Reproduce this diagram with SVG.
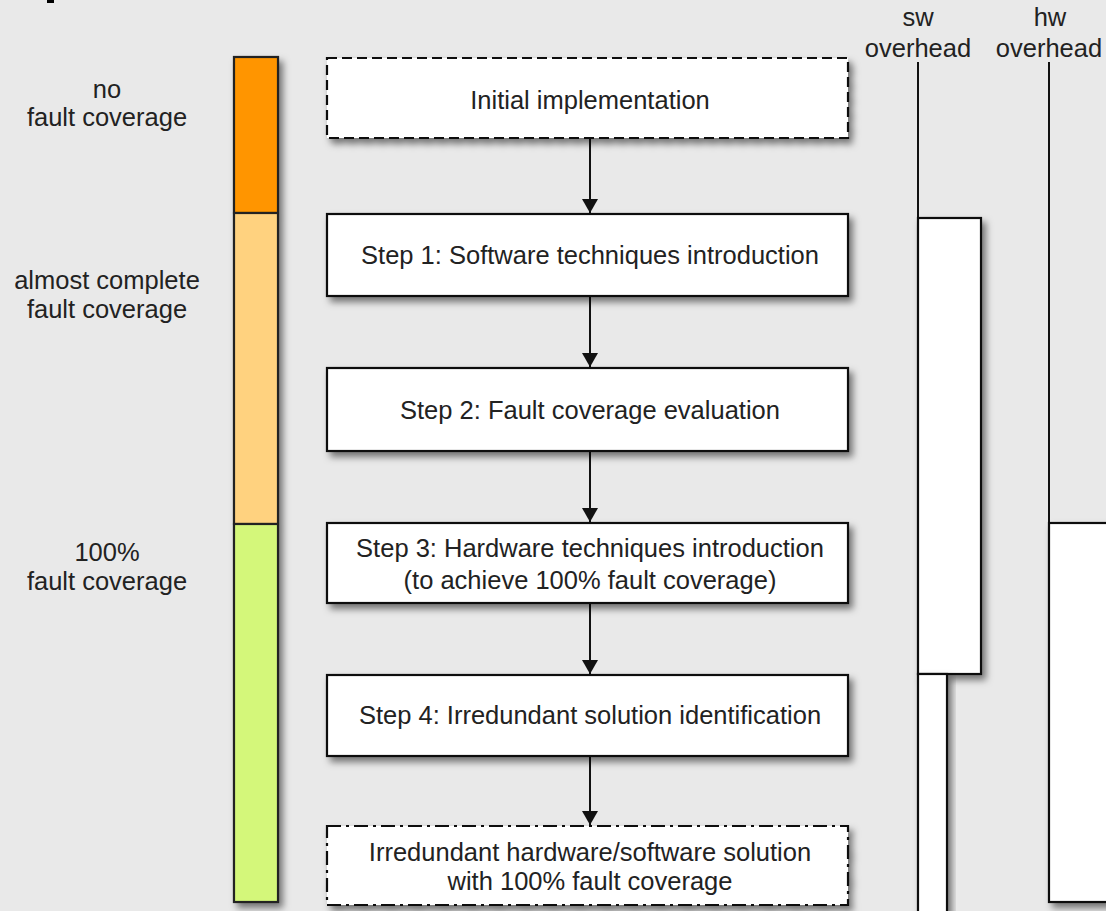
<svg xmlns="http://www.w3.org/2000/svg" width="1106" height="911" viewBox="0 0 1106 911">
  <defs>
    <style>
      text { font-family: "Liberation Sans", Arial, sans-serif; font-size: 25.5px; fill: #222; text-anchor: middle; }
      .box { fill: #ffffff; stroke: #111; stroke-width: 2.2; }
      .dashed { stroke-dasharray: 10 5; }
      .dashdot { stroke-dasharray: 14 5 3 5; }
      .bar { stroke: #222; stroke-width: 2.2; }
      .conn { stroke: #111; stroke-width: 2; fill: none; }
      .axis { stroke: #111; stroke-width: 2; }
    </style>
    <filter id="shadow" x="-20%" y="-20%" width="150%" height="150%">
      <feDropShadow dx="4" dy="5" stdDeviation="3.5" flood-color="#000" flood-opacity="0.5"/>
    </filter>
    <marker id="arrow" viewBox="0 0 14 16" refX="14" refY="8" markerWidth="14" markerHeight="16" markerUnits="userSpaceOnUse" orient="auto">
      <path d="M0,0 L14,8 L0,16 Z" fill="#111"/>
    </marker>
  </defs>

  <rect width="1106" height="911" fill="#e9e9e9"/>
  <rect x="47" y="0" width="7" height="3" fill="#000"/>

  <!-- fault coverage scale -->
  <g id="coverage-bar" filter="url(#shadow)">
    <rect class="bar" x="234" y="57" width="44" height="156" fill="#ff9500"/>
    <rect class="bar" x="234" y="213" width="44" height="311" fill="#ffd27f"/>
    <rect class="bar" x="234" y="524" width="44" height="378" fill="#d4f77a"/>
  </g>
  <g id="coverage-labels">
    <text x="107" y="98">no</text>
    <text x="107" y="126">fault coverage</text>
    <text x="107" y="289">almost complete</text>
    <text x="107" y="318">fault coverage</text>
    <text x="107" y="561">100%</text>
    <text x="107" y="590">fault coverage</text>
  </g>

  <!-- flow connectors -->
  <g id="connectors">
    <line class="conn" x1="590" y1="139" x2="590" y2="213" marker-end="url(#arrow)"/>
    <line class="conn" x1="590" y1="297" x2="590" y2="367" marker-end="url(#arrow)"/>
    <line class="conn" x1="590" y1="452" x2="590" y2="522" marker-end="url(#arrow)"/>
    <line class="conn" x1="590" y1="604" x2="590" y2="674" marker-end="url(#arrow)"/>
    <line class="conn" x1="590" y1="757" x2="590" y2="825" marker-end="url(#arrow)"/>
  </g>

  <!-- flow steps -->
  <g id="initial">
    <rect class="box dashed" x="327" y="58" width="521" height="80" filter="url(#shadow)"/>
    <text x="590" y="109">Initial implementation</text>
  </g>
  <g id="step1">
    <rect class="box" x="327" y="214" width="521" height="82" filter="url(#shadow)"/>
    <text x="590" y="264">Step 1: Software techniques introduction</text>
  </g>
  <g id="step2">
    <rect class="box" x="327" y="368" width="521" height="83" filter="url(#shadow)"/>
    <text x="590" y="419">Step 2: Fault coverage evaluation</text>
  </g>
  <g id="step3">
    <rect class="box" x="327" y="523" width="521" height="80" filter="url(#shadow)"/>
    <text x="590" y="557">Step 3: Hardware techniques introduction</text>
    <text x="590" y="589">(to achieve 100% fault coverage)</text>
  </g>
  <g id="step4">
    <rect class="box" x="327" y="675" width="521" height="81" filter="url(#shadow)"/>
    <text x="590" y="724">Step 4: Irredundant solution identification</text>
  </g>
  <g id="result">
    <rect class="box dashdot" x="327" y="826" width="521" height="79" filter="url(#shadow)"/>
    <text x="590" y="861">Irredundant hardware/software solution</text>
    <text x="590" y="890">with 100% fault coverage</text>
  </g>

  <!-- overhead columns -->
  <g id="sw-overhead">
    <text x="918" y="26">sw</text>
    <text x="918" y="57">overhead</text>
    <line class="axis" x1="918" y1="62" x2="918" y2="218"/>
    <rect class="box" x="918" y="218" width="63" height="456" filter="url(#shadow)"/>
    <rect class="box" x="918" y="674" width="29" height="250" filter="url(#shadow)"/>
  </g>
  <g id="hw-overhead">
    <text x="1050" y="26">hw</text>
    <text x="1049" y="57">overhead</text>
    <line class="axis" x1="1049" y1="62" x2="1049" y2="523"/>
    <rect class="box" x="1049" y="523" width="80" height="379" filter="url(#shadow)"/>
  </g>
</svg>
